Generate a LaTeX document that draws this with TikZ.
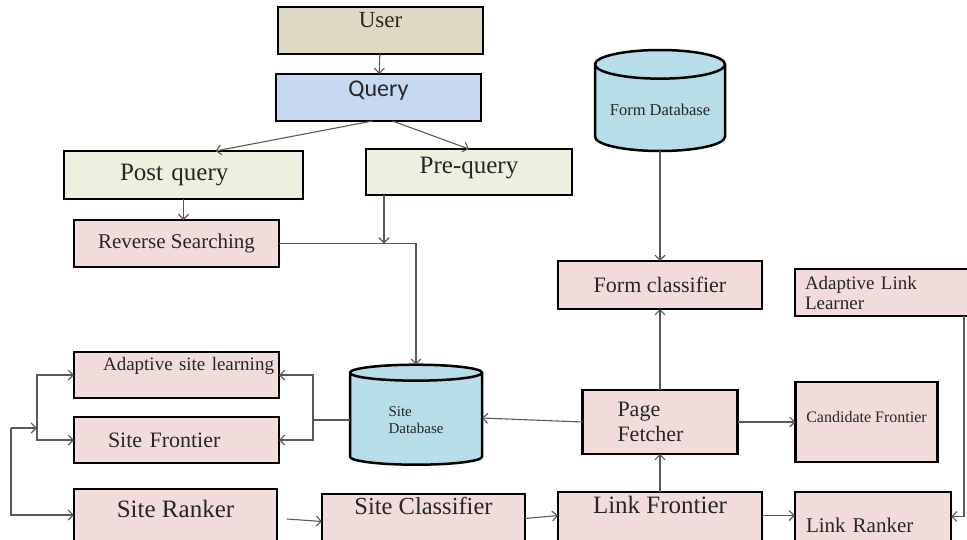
\documentclass[tikz,border=0pt]{standalone}
\usepackage{fontspec}
\setmainfont{Liberation Serif}
\newfontfamily\qfont{Carlito}
\usetikzlibrary{arrows.meta, shapes.geometric, positioning}
\definecolor{usertan}{RGB}{221,217,195}
\definecolor{queryblue}{RGB}{198,217,241}
\definecolor{palegreen}{RGB}{235,241,222}
\definecolor{palepink}{RGB}{242,220,219}
\definecolor{dbblue}{RGB}{183,221,232}
\definecolor{linegray}{RGB}{89,89,89}

\begin{document}
\begin{tikzpicture}[
    x=1pt, y=1pt,
    box/.style={rectangle, draw=black, line width=2.5pt, outer sep=0pt, inner xsep=3pt, inner ysep=1pt,
        text=black!85, align=center},
    userbox/.style={box, fill=usertan},
    querybox/.style={box, fill=queryblue},
    greenbox/.style={box, fill=palegreen},
    pinkbox/.style={box, fill=palepink},
    dbase/.style={cylinder, shape border rotate=90, aspect=0.28, draw=black, line width=2.5pt,
        outer sep=0pt, fill=dbblue, text=black!85, align=left, inner sep=1pt},
    arrow/.style={-{Straight Barb[length=5pt, width=10pt]}, draw=linegray, line width=1.1pt}
]
    \useasboundingbox (0,0) rectangle (967,-539);
    \clip (0,0) rectangle (967,-539);

    % query side
    \node[userbox, minimum width=205pt, minimum height=47pt, text depth=21pt,
        font=\fontsize{23}{26}\selectfont] (user) at (380.5,-30.5) {User};
    \node[querybox, below=20pt of user, xshift=-2pt, minimum width=205pt, minimum height=47pt,
        text depth=18pt, font=\qfont\fontsize{24}{27}\selectfont] (query) {Query};
    \node[greenbox, below=30pt of query, xshift=-195pt, minimum width=239pt, minimum height=48pt,
        inner xsep=56pt, text width=127pt, align=left, font=\fontsize{25}{28}\selectfont] (post) {Post query};
    \node[greenbox, below=28pt of query, xshift=90.5pt, minimum width=206pt, minimum height=46pt,
        text depth=14pt, font=\fontsize{25}{28}\selectfont] (pre) {Pre-query};
    \node[pinkbox, below=21pt of post, xshift=-7pt, minimum width=205pt, minimum height=47pt,
        font=\fontsize{21}{24}\selectfont] (rev) {Reverse Searching};

    % site side
    \node[pinkbox, below=85pt of rev, minimum width=205pt, minimum height=46pt, text depth=22pt,
        inner xsep=5pt, text width=195pt, align=right, font=\fontsize{19}{22}\selectfont] (asl) {Adaptive site learning};
    \node[pinkbox, below=19pt of asl, minimum width=205pt, minimum height=46pt,
        inner xsep=34pt, text width=137pt, align=left, font=\fontsize{22}{25}\selectfont] (sf) {Site Frontier};
    \node[pinkbox, below=26pt of sf, xshift=-1pt, minimum width=203pt, minimum height=60pt,
        text depth=20pt, font=\fontsize{25}{28}\selectfont] (sr) {Site Ranker};
    \node[dbase, right=71pt of sf, yshift=20pt, minimum width=132pt, minimum height=100pt,
        font=\fontsize{15}{17}\selectfont] (sitedb) {Site\\Database};
    \node[pinkbox, right=45pt of sr, yshift=-2.5pt, minimum width=203pt, minimum height=55pt,
        text depth=32pt, font=\fontsize{24.5}{27}\selectfont] (sc) {Site Classifier};

    % link side
    \node[pinkbox, right=33pt of sc, yshift=1pt, minimum width=204pt, minimum height=57pt,
        text depth=32pt, font=\fontsize{25}{28}\selectfont] (linkf) {Link Frontier};
    \node[pinkbox, right=33pt of linkf, minimum width=156pt, minimum height=57pt,
        text height=24pt, text depth=0pt, inner xsep=11pt, text width=134pt, align=left,
        font=\fontsize{21}{24}\selectfont] (linkr) {Link Ranker};
    \node[pinkbox, above=38pt of linkf, minimum width=155pt, minimum height=64pt,
        inner xsep=35pt, text width=85pt, align=left, font=\fontsize{22}{25}\selectfont] (fetch) {Page\\Fetcher};
    \node[pinkbox, right=58pt of fetch, minimum width=142pt, minimum height=80pt, text depth=10pt,
        font=\fontsize{16}{18}\selectfont] (cand) {Candidate Frontier};
    \node[pinkbox, above=81pt of fetch, minimum width=204pt, minimum height=48pt,
        font=\fontsize{22}{25}\selectfont] (formcls) {Form classifier};
    \node[pinkbox, right=33pt of formcls, yshift=-7.5pt, minimum width=185pt, minimum height=47pt,
        inner xsep=10pt, text width=165pt, align=left, font=\fontsize{19}{20}\selectfont] (all) {Adaptive Link\\Learner};
    \node[dbase, above=110pt of formcls, minimum width=130pt, minimum height=101pt,
        font=\fontsize{16.5}{19}\selectfont] (formdb) {Form Database};

    \draw[arrow] (user) -- (query);
    \draw[arrow] ([xshift=-6pt]query.south) -- ([xshift=32pt]post.north);
    \draw[arrow] ([xshift=14pt]query.south) -- (pre.north);
    \draw[arrow] (post.south) -- (post.south |- rev.north);
    \coordinate (join) at ([xshift=-85pt]pre.south |- rev.east);
    \draw[arrow] ([xshift=-85pt]pre.south) -- (join);
    \draw[arrow] (rev.east) -| (sitedb.north);

    \draw[arrow] (sitedb.west) -- ++(-37pt,0) |- (asl.east);
    \draw[arrow] (sitedb.west) -- ++(-37pt,0) |- (sf.east);
    \coordinate (fork) at ([xshift=-37pt, yshift=12pt]sf.west);
    \coordinate (loop) at ([xshift=-26pt]fork);
    \draw[arrow] (fork) |- (asl.west);
    \draw[arrow] (fork) |- (sf.west);
    \draw[arrow] (loop) -- (fork);
    \draw[arrow] (loop) |- ([yshift=4pt]sr.west);
    \draw[arrow] ([xshift=10pt]sr.east) -- (sc.west);
    \draw[arrow] ([yshift=3pt]sc.east) -- ([yshift=5pt]linkf.west);

    \draw[arrow] (linkf.north) -- (fetch.south);
    \draw[arrow] (fetch.north) -- (formcls.south);
    \draw[arrow] (formdb.south) -- (formcls.north);
    \draw[arrow] (fetch.west) -- ([yshift=2pt]sitedb.east);
    \draw[arrow] (fetch.east) -- (cand.west);
    \draw[arrow] ([yshift=5pt]linkf.east) -- ([yshift=5pt]linkr.west);
    \draw[arrow] ([xshift=-16pt]all.south east) |- ([yshift=4pt]linkr.east);
\end{tikzpicture}
\end{document}
